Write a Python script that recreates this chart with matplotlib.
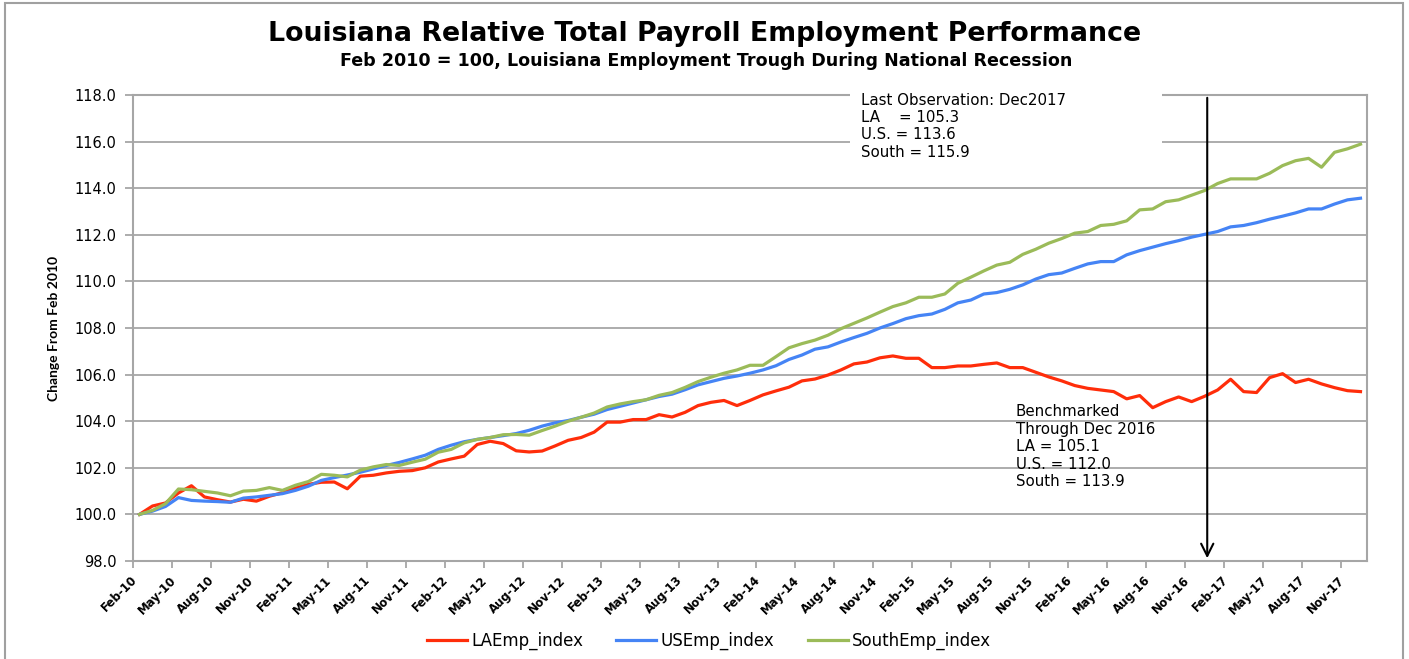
import numpy as np
import matplotlib
matplotlib.use("Agg")
import matplotlib.pyplot as plt
from matplotlib.patches import Rectangle
from matplotlib.transforms import ScaledTranslation

# ── Data (Feb 2010 = 100), monthly Feb-2010 .. Dec-2017 ───────────────────────
la_index = [
    100.0, 100.36, 100.49, 100.92, 101.23, 100.75, 100.63, 100.53, 100.65, 100.57,
    100.78, 100.93, 101.13, 101.29, 101.38, 101.39, 101.1, 101.64, 101.68, 101.78,
    101.85, 101.88, 102.0, 102.25, 102.38, 102.5, 103.0, 103.14, 103.04, 102.73,
    102.68, 102.72, 102.94, 103.18, 103.3, 103.53, 103.96, 103.96, 104.07, 104.07,
    104.28, 104.18, 104.38, 104.67, 104.81, 104.89, 104.67, 104.89, 105.13, 105.3,
    105.46, 105.73, 105.81, 105.98, 106.2, 106.46, 106.54, 106.72, 106.8, 106.7,
    106.7, 106.3, 106.3, 106.37, 106.37, 106.44, 106.5, 106.3, 106.3, 106.1,
    105.9, 105.73, 105.53, 105.41, 105.34, 105.27, 104.96, 105.1, 104.58, 104.84,
    105.04, 104.84, 105.07, 105.34, 105.8, 105.27, 105.23, 105.87, 106.04, 105.66,
    105.8, 105.6, 105.44, 105.31, 105.27,
]
us_index = [
    100.0, 100.14, 100.34, 100.72, 100.6, 100.57, 100.55, 100.52, 100.7, 100.75,
    100.82, 100.89, 101.03, 101.21, 101.46, 101.58, 101.69, 101.81, 101.95, 102.1,
    102.23, 102.38, 102.54, 102.79, 102.97, 103.12, 103.22, 103.3, 103.38, 103.47,
    103.61, 103.79, 103.93, 104.03, 104.17, 104.3, 104.5, 104.64, 104.78, 104.92,
    105.06, 105.16, 105.35, 105.56, 105.7, 105.84, 105.94, 106.06, 106.2, 106.38,
    106.65, 106.84, 107.09, 107.19, 107.4, 107.59, 107.77, 108.0, 108.19, 108.4,
    108.53, 108.6, 108.8, 109.08, 109.2, 109.46, 109.52, 109.66, 109.85, 110.1,
    110.29, 110.36, 110.56, 110.75, 110.85, 110.85, 111.14, 111.32, 111.47, 111.62,
    111.75, 111.9, 112.02, 112.14, 112.34, 112.4, 112.52, 112.67, 112.8, 112.94,
    113.11, 113.11, 113.32, 113.5, 113.57,
]
south_index = [
    100.0, 100.17, 100.46, 101.09, 101.06, 100.99, 100.92, 100.8, 101.0, 101.03,
    101.15, 101.03, 101.25, 101.41, 101.72, 101.68, 101.61, 101.9, 102.04, 102.14,
    102.1, 102.24, 102.37, 102.67, 102.79, 103.07, 103.22, 103.3, 103.42, 103.43,
    103.4, 103.6, 103.79, 104.0, 104.17, 104.35, 104.61, 104.74, 104.84, 104.92,
    105.11, 105.23, 105.45, 105.7, 105.89, 106.06, 106.2, 106.4, 106.4, 106.77,
    107.15, 107.33, 107.48, 107.69, 107.97, 108.2, 108.43, 108.68, 108.92, 109.08,
    109.32, 109.32, 109.46, 109.92, 110.18, 110.45, 110.7, 110.82, 111.16, 111.38,
    111.64, 111.84, 112.07, 112.14, 112.4, 112.45, 112.6, 113.07, 113.11, 113.42,
    113.5, 113.7, 113.9, 114.2, 114.4, 114.4, 114.4, 114.64, 114.97, 115.18,
    115.28, 114.9, 115.54, 115.69, 115.89,
]

tick_labels = [
    "Feb-10", "May-10", "Aug-10", "Nov-10", "Feb-11", "May-11", "Aug-11", "Nov-11",
    "Feb-12", "May-12", "Aug-12", "Nov-12", "Feb-13", "May-13", "Aug-13", "Nov-13",
    "Feb-14", "May-14", "Aug-14", "Nov-14", "Feb-15", "May-15", "Aug-15", "Nov-15",
    "Feb-16", "May-16", "Aug-16", "Nov-16", "Feb-17", "May-17", "Aug-17", "Nov-17",
]
benchmark_month = 82   # Dec 2016

last_note = "Last Observation: Dec2017\nLA    = 105.3\nU.S. = 113.6\nSouth = 115.9"
bench_note = "Benchmarked\nThrough Dec 2016\nLA = 105.1\nU.S. = 112.0\nSouth = 113.9"

# ── Style ─────────────────────────────────────────────────────────────────────
RED, BLUE, GREEN = "#FF2D0A", "#4584F5", "#9BBB59"
GRID = "#A6A6A6"
SANS = "DejaVu Sans"

W, H = 1409, 659
fig = plt.figure(figsize=(W / 100, H / 100), dpi=100)
ax = fig.add_axes([133 / W, 1 - 561 / H, (1367 - 133) / W, (561 - 95) / H])

x = np.arange(len(la_index))
ax.plot(x, la_index, color=RED, lw=2.3, label="LAEmp_index", zorder=4)
ax.plot(x, us_index, color=BLUE, lw=2.3, label="USEmp_index", zorder=4)
ax.plot(x, south_index, color=GREEN, lw=2.3, label="SouthEmp_index", zorder=4)

ax.set_xlim(-0.5, len(x) - 0.5)
ax.set_ylim(98, 118)
yt = np.arange(98, 118.1, 2)
ax.set_yticks(yt)
ax.set_yticklabels([f"{v:.1f}" for v in yt], fontsize=10.5, family=SANS)
ax.grid(axis="y", color=GRID, lw=1.3)
ax.set_axisbelow(True)

ax.set_xticks(x[::3])
ax.set_xticklabels(tick_labels, rotation=45, ha="right", fontsize=8.5,
                   family=SANS, fontweight="bold")
shift = ScaledTranslation(0.06, 0, fig.dpi_scale_trans)
for lbl in ax.get_xticklabels():
    lbl.set_transform(lbl.get_transform() + shift)
ax.set_xticks(np.arange(-0.5, len(x), 3), minor=True)
ax.tick_params(axis="x", which="major", length=0, pad=9)
ax.tick_params(axis="x", which="minor", length=5, color=GRID, width=1.3)
ax.tick_params(axis="y", length=6, color=GRID, width=1.3, pad=6)
for sp in ax.spines.values():
    sp.set_color(GRID)
    sp.set_linewidth(1.5)

ax.set_ylabel("Change From Feb 2010", family="Lato", fontweight="bold",
              fontsize=10, labelpad=10)

# white box behind the last-observation note (covers grid and border)
ax.add_patch(Rectangle((54.7, 115.2), 24.0, 3.0, facecolor="white",
                       edgecolor="none", zorder=3, clip_on=False))
ax.text(55.55, 118.1, last_note, family=SANS, fontsize=10.8, va="top",
        ha="left", linespacing=1.2, zorder=5)
ax.text(67.45, 104.72, bench_note, family=SANS, fontsize=10.8, va="top",
        ha="left", linespacing=1.2, zorder=5)

ax.annotate("", xy=(benchmark_month + 0.2, 98.0),
            xytext=(benchmark_month + 0.2, 118.0),
            arrowprops=dict(arrowstyle="->", color="black", lw=1.5,
                            mutation_scale=22), zorder=6)

fig.text(705 / W, 1 - 34 / H, "Louisiana Relative Total Payroll Employment Performance",
         ha="center", va="center", family=SANS, fontweight="bold", fontsize=19.3)
fig.text(706 / W, 1 - 61 / H,
         "Feb 2010 = 100, Louisiana Employment Trough During National Recession",
         ha="center", va="center", family=SANS, fontweight="bold", fontsize=12.6)

fig.legend(loc="center", bbox_to_anchor=(709 / W, 1 - 641 / H), ncol=3,
           frameon=False, prop={"family": SANS, "size": 12},
           handlelength=2.4, columnspacing=2.0, handletextpad=0.25)

fig.add_artist(Rectangle((5 / W, -0.1), 1398 / W, 1.1 - 3 / H, fill=False,
                         edgecolor="#A0A0A0", lw=1.5,
                         transform=fig.transFigure, clip_on=False))

fig.savefig("out.png", dpi=100)
